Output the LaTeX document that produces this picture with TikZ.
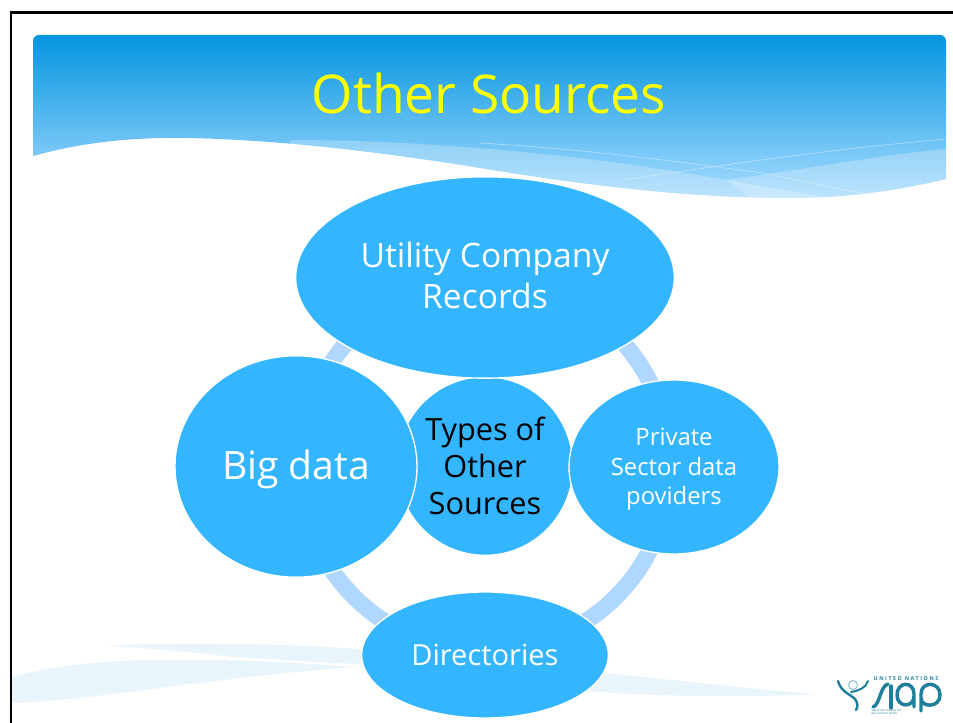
\documentclass[tikz,border=0pt]{standalone}
\usepackage{fontspec}
\setmainfont{Open Sans}
\usetikzlibrary{shapes.geometric,backgrounds,patterns}
\definecolor{nodeblue}{HTML}{33B5FF}
\definecolor{ringblue}{HTML}{B0D7FF}
\definecolor{headtop}{HTML}{0595E0}
\definecolor{headbot}{HTML}{A6DBFF}
\definecolor{teal}{HTML}{1E7F9C}
\definecolor{titleyellow}{HTML}{FFFF00}
\definecolor{wisp}{HTML}{E8F4FC}
\tikzset{
  bubble/.style={shape=ellipse,fill=nodeblue,draw=white,line width=1pt,inner sep=0pt,align=center,text=white},
  ringarc/.style={draw=ringblue,line width=12.5pt},
  bandfill/.style={fill=white,fill opacity=0.22},
  banddots/.style={pattern=crosshatch dots,pattern color=white,fill opacity=0.3},
  wispfill/.style={fill=wisp},
  wispdots/.style={pattern=crosshatch dots,pattern color=white,fill opacity=0.6},
  hairline/.style={draw=white,draw opacity=0.4,line width=0.5pt},
  logostroke/.style={draw=teal,line cap=round}
}
\begin{document}
\begin{tikzpicture}[x=0.75pt,y=-0.75pt]
\useasboundingbox (0,0) rectangle (953,723);
% page frame
\draw[black,line width=1.6pt] (11,723) -- (11,12.5) -- (953,12.5);
% central and surrounding bubbles
\node[bubble,minimum width=132pt,minimum height=134pt,text=black,font=\fontsize{23}{27.7}\selectfont] (centre) at (485,466) {Types of\\Other\\Sources};
\node[bubble,minimum width=284pt,minimum height=151pt,font=\fontsize{25.2}{30.5}\selectfont] (top) at (485,277.5) {Utility Company\\Records\rule[-3pt]{0pt}{3pt}};
\node[bubble,minimum width=181.5pt,minimum height=166pt,font=\fontsize{29.3}{36}\selectfont] (left) at (296,466.5) {\rule{0pt}{26.8pt}Big data};
\node[bubble,minimum width=157.5pt,minimum height=130.5pt,font=\fontsize{17.9}{22.3}\selectfont] (right) at (674,467) {\rule{0pt}{16.6pt}Private\\Sector data\\poviders};
\node[bubble,minimum width=185pt,minimum height=94.5pt,font=\fontsize{21.8}{26}\selectfont] (bottom) at (485,655) {Directories};
% points where the ring passes behind the outer bubbles
\coordinate (ringT) at (485,281);
\coordinate (ringR) at (670,466);
\coordinate (ringB) at (485,651);
\coordinate (ringL) at (300,466);
\begin{pgfonlayer}{background}
  % header panel
  \def\headerpath{(33,156) .. controls (80,143) and (130,137) .. (187,138) .. controls (290,140) and (400,155) .. (480,168) .. controls (590,186) and (690,198) .. (790,198) .. controls (850,198) and (900,190) .. (946,179) -- (946,41) .. controls (946,37.7) and (943.3,35) .. (940,35) -- (39,35) .. controls (35.7,35) and (33,37.7) .. (33,41) -- cycle}
  \shade[top color=headtop,bottom color=headbot] \headerpath;
  \begin{scope}
    \clip \headerpath;
    \path[bandfill] (290,140) .. controls (400,140) and (560,150) .. (727,180) -- (870,205) -- (480,205) -- (290,170) -- cycle;
    \path[banddots] (290,140) .. controls (400,140) and (560,150) .. (727,180) -- (870,205) -- (480,205) -- (290,170) -- cycle;
    \path[bandfill] (727,180) .. controls (800,170) and (880,155) .. (946,149) -- (946,205) -- (760,205) -- cycle;
    \path[banddots] (727,180) .. controls (800,170) and (880,155) .. (946,149) -- (946,205) -- (760,205) -- cycle;
    \path[hairline] (480,143) .. controls (600,150) and (700,165) .. (763,173) .. controls (800,180) and (830,188) .. (863,193);
    \path[hairline] (623,180) .. controls (680,172) and (800,152) .. (946,139);
  \end{scope}
  % lower wisps
  \path[wispfill] (11,677) .. controls (50,667) and (100,660) .. (160,660) .. controls (230,659) and (300,662) .. (375,669) -- (375,666) .. controls (300,670) and (240,678) .. (167,687) .. controls (100,696) and (50,702) .. (11,703) -- cycle;
  \path[wispdots] (11,677) .. controls (50,667) and (100,660) .. (160,660) .. controls (230,659) and (300,662) .. (375,669) -- (375,666) .. controls (300,670) and (240,678) .. (167,687) .. controls (100,696) and (50,702) .. (11,703) -- cycle;
  \path[wispfill] (107,646) .. controls (160,642) and (280,643) .. (375,650) -- (375,664) .. controls (320,664) and (270,658) .. (233,657) .. controls (190,652) and (150,648) .. (107,646) -- cycle;
  \path[wispdots] (107,646) .. controls (160,642) and (280,643) .. (375,650) -- (375,664) .. controls (320,664) and (270,658) .. (233,657) .. controls (190,652) and (150,648) .. (107,646) -- cycle;
  \path[wispfill] (570,670) .. controls (670,679) and (760,690) .. (817,694) .. controls (760,697) and (670,698) .. (570,690) -- cycle;
  \path[wispdots] (570,670) .. controls (670,679) and (760,690) .. (817,694) .. controls (760,697) and (670,698) .. (570,690) -- cycle;
  % ring joining the outer bubbles
  \draw[ringarc] (ringT) to[bend left=45] (ringR);
  \draw[ringarc] (ringR) to[bend left=45] (ringB);
  \draw[ringarc] (ringB) to[bend left=45] (ringL);
  \draw[ringarc] (ringL) to[bend left=45] (ringT);
\end{pgfonlayer}
% title
\node[text=titleyellow,font=\fontsize{40}{48}\selectfont,anchor=base] (title) at (489,114) {Other Sources};
% logo
\draw[logostroke,line width=1.8pt] (838,681) .. controls (841,692) and (850,694) .. (855,699) .. controls (858,703) and (858,707) .. (856,710);
\draw[logostroke,line width=1.5pt] (868,681) .. controls (866,688) and (858,691) .. (851,692);
\draw[logostroke,line width=0.6pt,draw opacity=0.6] (853,685) circle[radius=4.5];
\draw[logostroke,line width=2.6pt] (873,707) .. controls (880,705) and (880,686) .. (888,684);
\draw[logostroke,line width=2.6pt] (891,686) -- (891,708);
\draw[logostroke,line width=2.6pt] (914,707) -- (914,694) .. controls (914,681) and (897,681) .. (897,695) .. controls (897,708) and (914,708) .. (914,696);
\draw[logostroke,line width=2.6pt] (921,711) -- (921,694) .. controls (921,681) and (940,681) .. (940,695) .. controls (940,708) and (921,708) .. (921,698);
\node[text=teal,font=\fontsize{4}{4.4}\bfseries\addfontfeature{LetterSpace=30}\selectfont,anchor=center] (un) at (906,679) {UNITED NATIONS};
\node[text=teal,font=\fontsize{2.2}{2.6}\selectfont,align=left,anchor=north west,inner sep=0pt] (inst) at (871,709) {Statistical Institute for\\Asia and the Pacific};
\end{tikzpicture}
\end{document}
